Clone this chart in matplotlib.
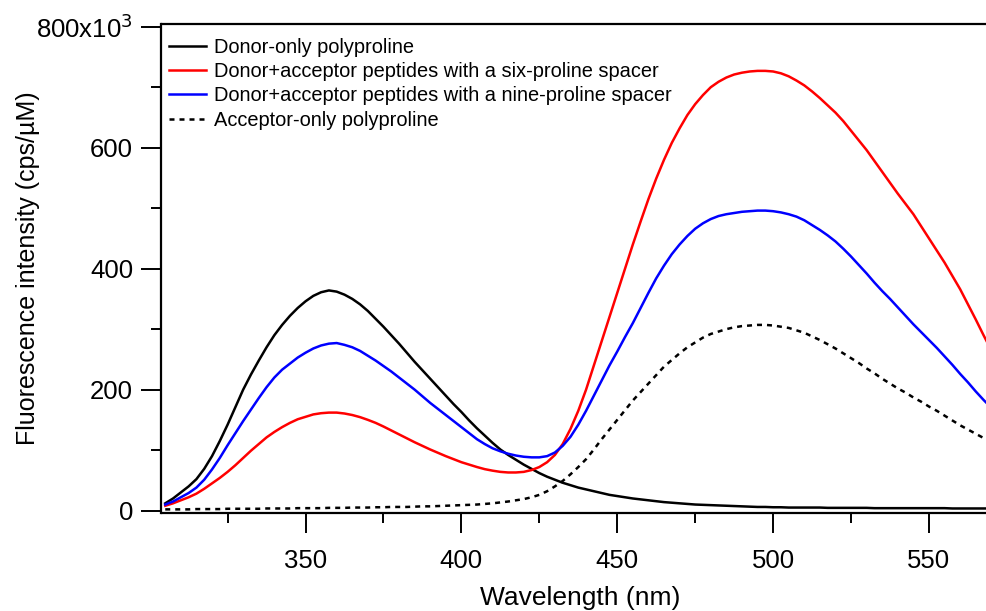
import numpy as np
import matplotlib
matplotlib.use("Agg")
import matplotlib.pyplot as plt
from matplotlib.ticker import MultipleLocator, FixedLocator, FixedFormatter

plt.rcParams['font.family'] = ['Liberation Sans', 'DejaVu Sans']

# Emission wavelengths (nm), sampled every 2.5 nm
wavelength = np.arange(305.0, 572.5, 2.5)

# Fluorescence intensity in units of 10^3 cps/uM (each row spans 25 nm)
donor_only = [
    12, 20, 30, 40, 52, 69, 90, 115, 142, 171,
    200, 225, 248, 270, 290, 307, 322, 335, 346, 355,
    361, 364, 362, 357, 350, 341, 330, 317, 304, 290,
    276, 261, 246, 232, 218, 204, 190, 176, 163, 149,
    136, 124, 112, 101, 92, 84, 76, 69, 62, 56,
    51, 46, 42, 38, 35, 32, 29, 26, 24, 22,
    20, 18.5, 17, 15.5, 14, 13, 12, 11, 10, 9.5,
    9, 8.5, 8, 7.5, 7, 6.5, 6, 6, 5.5, 5.5,
    5, 5, 5, 5, 5, 4.5, 4.5, 4.5, 4.5, 4.5,
    4.5, 4, 4, 4, 4, 4, 4, 4, 4, 4,
    4, 3.5, 3.5, 3.5, 3.5, 3.5, 3.5,
]

six_proline = [
    8, 12, 17, 22, 28, 36, 45, 54, 64, 75,
    87, 99, 110, 121, 130, 138, 145, 151, 155, 159,
    161, 162, 162, 160.5, 158, 154.5, 150, 145, 139, 132.5,
    126, 119.5, 113, 107, 101, 95.5, 90, 85, 80, 76,
    72, 68.5, 66, 64, 63, 63, 64, 67, 72, 80,
    92, 110, 135, 165, 200, 240, 280, 320, 360, 400,
    440, 478, 515, 549, 580, 608, 632, 654, 672, 687,
    700, 709, 716, 721, 724, 726, 727, 727, 726, 723,
    718, 711, 703, 693, 682, 670, 658, 644, 628, 612,
    596, 578, 560, 542, 524, 507, 490, 470, 450, 430,
    410, 388, 366, 341, 316, 290, 265,
]

nine_proline = [
    10, 15, 22, 29, 38, 51, 68, 87, 108, 128,
    148, 167, 186, 204, 220, 233, 243, 253, 261, 268,
    273, 276, 277, 274, 270, 264, 256, 248, 239, 230,
    220, 210, 200, 189, 178, 168, 158, 148, 138, 128,
    118, 110, 103, 98, 94, 91, 89, 88, 88, 90,
    96, 107, 122, 142, 165, 190, 215, 240, 263, 287,
    310, 335, 360, 384, 405, 424, 440, 454, 466, 475,
    482, 487, 490, 492, 494, 495, 496, 496, 495, 493,
    490, 486, 480, 472, 464, 455, 445, 433, 420, 406,
    392, 377, 363, 350, 336, 322, 308, 295, 282, 269,
    255, 241, 226, 212, 197, 183, 170,
]

acceptor_only = [
    2, 2, 2, 2, 2.5, 2.5, 2.5, 2.5, 3, 3,
    3, 3, 3, 3.5, 3.5, 3.5, 3.5, 4, 4, 4,
    4, 4.5, 4.5, 4.5, 5, 5, 5, 5.5, 5.5, 6,
    6, 6, 6.5, 7, 7, 7.5, 8, 8.5, 9, 9.5,
    10, 11, 12, 13.5, 15, 17, 19, 22, 26, 32,
    40, 49, 60, 72, 85, 101, 118, 134, 150, 166,
    182, 196, 210, 224, 238, 249, 260, 270, 278, 286,
    292, 296, 300, 303, 305, 306, 307, 307, 306, 304,
    302, 298, 294, 288, 282, 275, 268, 260, 252, 244,
    235, 227, 218, 210, 202, 195, 187, 180, 172, 165,
    157, 149, 141, 134, 127, 120, 113,
]

series = [
    ("Donor-only polyproline", donor_only, "black", "-"),
    ("Donor+acceptor peptides with a six-proline spacer", six_proline, "#ff0000", "-"),
    ("Donor+acceptor peptides with a nine-proline spacer", nine_proline, "#0000ff", "-"),
    ("Acceptor-only polyproline", acceptor_only, "black", (0, (2.0, 2.0))),
]

y_ticks = [0, 200, 400, 600, 800]
y_tick_labels = ["0", "200", "400", "600", r"800x10$^{3}$"]
x_ticks = [350, 400, 450, 500, 550]

W, H = 987, 611
fig = plt.figure(figsize=(W / 100, H / 100), dpi=100)
left_px, right_px, top_px, bottom_px = 161.5, 998.5, 23.7, 513.0
ax = fig.add_axes([left_px / W, 1 - bottom_px / H,
                   (right_px - left_px) / W, (bottom_px - top_px) / H])

for label, vals, color, ls in series:
    ax.plot(wavelength, np.asarray(vals) * 1e3, color=color, linestyle=ls,
            lw=1.8, label=label)

ax.set_xlim(303.8, 572.3)
ax.set_ylim(-4e3, 805e3)

ax.xaxis.set_major_locator(FixedLocator(x_ticks))
ax.xaxis.set_minor_locator(MultipleLocator(25))
ax.yaxis.set_major_locator(FixedLocator([v * 1e3 for v in y_ticks]))
ax.yaxis.set_major_formatter(FixedFormatter(y_tick_labels))
ax.yaxis.set_minor_locator(MultipleLocator(100e3))

for s in ax.spines.values():
    s.set_linewidth(1.6)
ax.spines['right'].set_visible(False)

ax.tick_params(axis='both', which='major', direction='out', length=14.5, width=1.4,
               labelsize=18.5)
ax.tick_params(axis='x', which='major', pad=11.5)
ax.tick_params(axis='y', which='major', pad=6)
ax.tick_params(axis='both', which='minor', direction='out', length=7.5, width=1.4)

ax.set_xlabel("Wavelength (nm)", fontsize=19)
ax.set_ylabel("Fluorescence intensity (cps/\u00b5M)", fontsize=18)
ax.xaxis.set_label_coords(0.5, -0.15)
ax.yaxis.set_label_coords(-0.145, 0.5)

ax.legend(loc='upper left', bbox_to_anchor=(-0.001, 0.987), frameon=False,
          fontsize=14.4, handlelength=1.85, handletextpad=0.4,
          labelspacing=0.26, borderaxespad=0.0)

fig.savefig("out.png", dpi=100)
